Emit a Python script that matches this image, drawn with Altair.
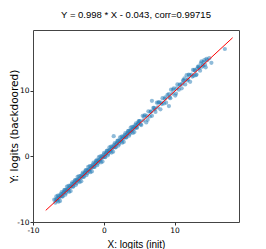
import altair as alt
import pandas as pd

# Scatter points (x = logits init, y = logits backdoored)
x_vals = [
    -7.0, -6.85, -6.7, -6.55, -6.4, -6.25, -6.1, -5.95, -5.8, -5.65,
    -5.5, -5.35, -5.2, -5.05, -4.9, -4.75, -4.6, -4.45, -4.3, -4.15,
    -4.0, -3.85, -3.7, -3.55, -3.4, -3.25, -3.1, -2.95, -2.8, -2.65,
    -2.5, -2.35, -2.2, -2.05, -1.9, -1.75, -1.6, -1.45, -1.3, -1.15,
    -1.0, -0.85, -0.7, -0.55, -0.4, -0.25, -0.1, 0.05, 0.2, 0.35,
    0.5, 0.65, 0.8, 0.95, 1.1, 1.25, 1.4, 1.55, 1.7, 1.85,
    2.0, 2.15, 2.3, 2.45, 2.6, 2.75, 2.9, 3.05, 3.2, 3.35,
    3.5, 3.65, 3.8, 3.95, 4.1, 4.25, 4.4, 4.55, 4.7, 4.85, 5.0,
    -6.78, -6.63, -6.48, -6.33, -6.18, -6.03, -5.88, -5.73, -5.58,
    -5.43, -5.28, -5.13, -4.98, -4.83, -4.68, -4.53, -4.38, -4.23, -4.08,
    -3.93, -3.78, -3.63, -3.48, -3.33, -3.18, -3.03, -2.88, -2.73, -2.58,
    -2.43, -2.28, -2.13, -1.98, -1.83, -1.68, -1.53, -1.38, -1.23, -1.08,
    -0.93, -0.78, -0.63, -0.48, -0.33, -0.18, -0.03, 0.12, 0.27, 0.42,
    0.57, 0.72, 0.87, 1.02, 1.17, 1.32, 1.47, 1.62, 1.77, 1.92,
    2.07, 2.22, 2.37, 2.52, 2.67, 2.82, 2.97, 3.12, 3.27, 3.42,
    3.57, 3.72, 3.87, 4.02, 4.17, 4.32, 4.47, 4.62, 4.77, 4.92,
    5.1, 5.3, 5.5, 5.6, 5.8, 6.0, 6.1, 6.3, 6.5, 6.6,
    6.8, 7.0, 7.1, 7.3, 7.5, 7.6, 7.8, 8.0, 8.1, 8.3,
    8.5, 8.6, 8.8, 9.0, 9.2, 9.4, 9.5, 9.7, 9.9, 10.1,
    10.3, 10.4, 10.6, 10.8, 11.0, 11.2, 11.3, 11.5, 11.7, 11.9,
    12.0, 12.2, 12.4, 12.6, 12.7, 12.9, 13.1, 13.3, 13.4, 13.6,
    13.8, 14.0, 14.2, 14.4, 14.6, 14.9, 15.2,
    5.2, 5.7, 6.2, 6.7, 7.2, 7.7, 8.2, 8.7, 9.3, 9.8,
    10.2, 10.7, 11.1, 11.4, 11.8, 12.1, 12.5, 12.8, 13.0, 13.2,
    13.5, 13.7, 13.9, 14.1, 14.3, 14.5,
    1.4, 6.8, 9.2, 17.1,
]
y_vals = [
    -6.6, -7.05, -6.1, -6.45, -6.9, -5.95, -6.1, -5.45, -6.1, -5.45,
    -5.1, -5.55, -4.6, -4.95, -5.4, -4.45, -4.6, -3.95, -4.6, -3.95,
    -3.6, -4.05, -3.1, -3.45, -3.9, -2.95, -3.1, -2.45, -3.1, -2.45,
    -2.1, -2.55, -1.6, -1.95, -2.4, -1.45, -1.6, -0.95, -1.6, -0.95,
    -0.6, -1.05, -0.1, -0.45, -0.9, 0.05, -0.1, 0.55, -0.1, 0.55,
    0.9, 0.45, 1.4, 1.05, 0.6, 1.55, 1.4, 2.05, 1.4, 2.05,
    2.4, 1.95, 2.9, 2.55, 2.1, 3.05, 2.9, 3.55, 2.9, 3.55,
    3.9, 3.45, 4.4, 4.05, 3.6, 4.55, 4.4, 5.05, 4.4, 5.05, 5.4,
    -6.58, -6.73, -5.98, -6.33, -6.78, -5.73, -6.08, -5.63, -5.13,
    -5.83, -5.08, -5.23, -4.48, -4.83, -5.28, -4.23, -4.58, -4.13, -3.63,
    -4.33, -3.58, -3.73, -2.98, -3.33, -3.78, -2.73, -3.08, -2.63, -2.13,
    -2.83, -2.08, -2.23, -1.48, -1.83, -2.28, -1.23, -1.58, -1.13, -0.63,
    -1.33, -0.58, -0.73, 0.02, -0.33, -0.78, 0.27, -0.08, 0.37, 0.87,
    0.17, 0.92, 0.77, 1.52, 1.17, 0.72, 1.77, 1.42, 1.87, 2.37,
    1.67, 2.42, 2.27, 3.02, 2.67, 2.22, 3.27, 2.92, 3.37, 3.87,
    3.17, 3.92, 3.77, 4.52, 4.17, 3.72, 4.77, 4.42, 4.87, 5.37,
    5.4, 4.8, 6.2, 5.5, 6.3, 5.2, 6.2, 6.9, 6.1, 6.8,
    6.2, 7.4, 7.4, 6.8, 8.2, 7.5, 8.3, 7.2, 8.2, 8.9,
    8.1, 8.8, 8.2, 9.4, 9.5, 8.9, 10.2, 9.6, 10.4, 9.3,
    10.4, 11.0, 10.2, 11.0, 10.4, 11.6, 11.6, 11.0, 12.4, 11.8,
    12.5, 11.4, 12.5, 13.2, 12.3, 13.1, 12.5, 13.7, 13.7, 13.1,
    14.5, 13.9, 14.7, 13.6, 14.7, 15.0, 14.3,
    4.9, 6.1, 5.6, 6.9, 7.2, 8.2, 8.0, 9.0, 9.0, 10.2,
    9.6, 10.9, 11.1, 11.9, 11.6, 12.4, 12.2, 13.2, 12.4, 13.4,
    13.5, 14.2, 13.7, 14.4, 14.0, 14.9,
    3.1, 8.5, 7.7, 16.4,
]

# Fitted regression line from the title
slope = 0.998
intercept = -0.043
line_x = [-8.2, 18.2]

title_text = "Y = 0.998 * X - 0.043, corr=0.99715"
x_ticks = [-10, 0, 10]
y_ticks = [-10, 0, 10]

pts = pd.DataFrame({"x": x_vals, "y": y_vals})
ln = pd.DataFrame({"x": line_x, "y": [slope * v + intercept for v in line_x]})

x_scale = alt.Scale(domain=[-10, 19.1], nice=False, zero=False)
y_scale = alt.Scale(domain=[-10, 19.3], nice=False, zero=False)

label_expr = "datum.value < 0 ? '-' + abs(datum.value) : '' + datum.value"

x_enc = alt.X(
    "x:Q", scale=x_scale, title="X: logits (init)",
    axis=alt.Axis(values=x_ticks, labelExpr=label_expr, labelFlush=False,
                  titleFont="Liberation Sans", titleFontSize=10,
                  titleBaseline="alphabetic", titleX=103, titleY=25),
)
y_enc = alt.Y(
    "y:Q", scale=y_scale, title="Y: logits (backdoored)",
    axis=alt.Axis(values=y_ticks, labelExpr=label_expr, labelFlush=False,
                  titleFont="DejaVu Sans", titleFontSize=10.5,
                  titleAngle=270, titleBaseline="alphabetic", titleAlign="center",
                  titleX=-16, titleY=96),
)

points = alt.Chart(pts).mark_circle(size=18, opacity=0.5, color="#1f77b4").encode(
    x=x_enc, y=y_enc
)
line = alt.Chart(ln).mark_line(color="red", strokeWidth=1).encode(
    x=alt.X("x:Q", scale=x_scale), y=alt.Y("y:Q", scale=y_scale)
)

chart = (
    alt.layer(points, line)
    .properties(
        width=206,
        height=192,
        title=alt.TitleParams(text=title_text, fontSize=9.5,
                              font="Liberation Sans",
                              fontWeight="normal", color="black",
                              baseline="alphabetic", offset=3),
        autosize=alt.AutoSizeParams(type="none"),
        padding={"left": 25, "top": 22, "right": 2, "bottom": 27},
    )
    .configure_view(stroke="#444444", strokeWidth=1)
    .configure_axis(
        labelFont="DejaVu Sans", labelFontSize=7.5,
        titleFontWeight="normal",
        labelColor="black", titleColor="black",
        tickSize=3, tickColor="#333333", labelPadding=1,
        domain=False, grid=False,
    )
)

chart.save("out.html", embed_options={"renderer": "svg", "actions": False})
